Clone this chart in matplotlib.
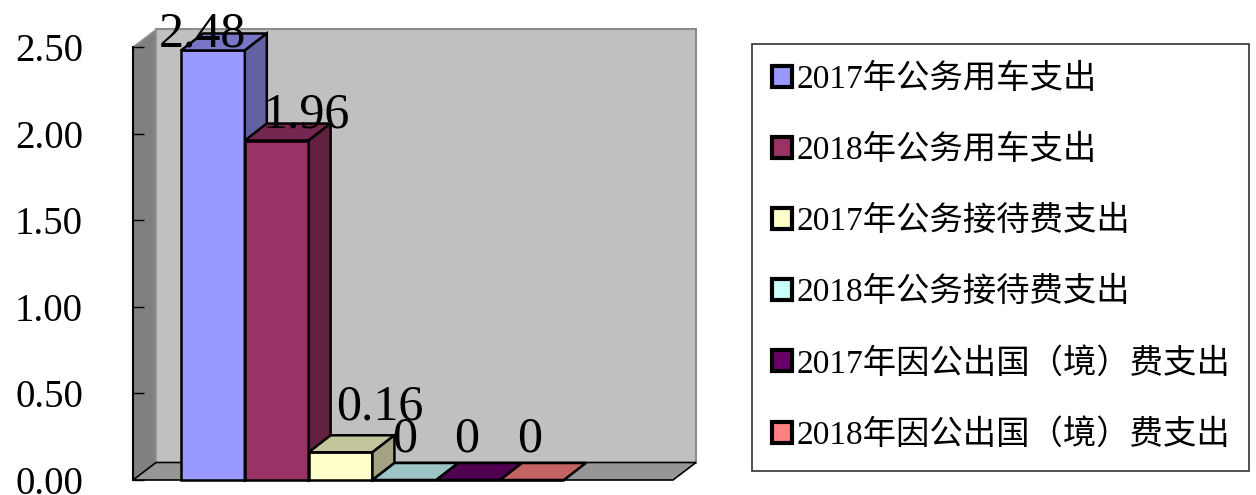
import matplotlib
matplotlib.use('Agg')
import matplotlib.pyplot as plt
from matplotlib.patches import Polygon, Patch
import numpy as np

plt.rcParams['font.family'] = ['Liberation Serif', 'Noto Sans CJK SC']

# data
series = ['2017年公务用车支出', '2018年公务用车支出',
          '2017年公务接待费支出', '2018年公务接待费支出',
          '2017年因公出国（境）费支出', '2018年因公出国（境）费支出']
values = [2.48, 1.96, 0.16, 0, 0, 0]
value_labels = ['2.48', '1.96', '0.16', '0', '0', '0']
yticks = [0.0, 0.5, 1.0, 1.5, 2.0, 2.5]

colors = ['#9999FF', '#993366', '#FFFFCC', '#CCFFFF', '#660066', '#FF8080']
# label nudges in pixels (dx, dy)
nudges = [(-11, 4), (30, 13), (39, 33), (0, 28), (-2, 28), (-2, 28)]


def shade(c, f):
    r, g, b = matplotlib.colors.to_rgb(c)
    return (r * f, g * f, b * f)


fig = plt.figure(figsize=(12.56, 4.95), dpi=100, facecolor='white')
ax = fig.add_axes([133 / 1256, 15 / 495, 540 / 1256, 433 / 495])
x0, x1 = -0.752, 7.71
ax.set_xlim(x0, x1)
ax.set_ylim(0, 2.5)
ax.patch.set_visible(False)

# depth offsets (data units)
wdx, wdy = 23 / 63.8, 17.5 / 173.2
bdx, bdy = 22 / 63.8, 17 / 173.2

# walls and floor
ax.add_patch(Polygon([(x0 + wdx, wdy), (x1 + wdx, wdy), (x1 + wdx, 2.5 + wdy), (x0 + wdx, 2.5 + wdy)],
                     closed=True, facecolor='#C0C0C0', edgecolor='#8C8C8C', lw=1.5, clip_on=False, zorder=0))
ax.add_patch(Polygon([(x0, 0), (x0, 2.5), (x0 + wdx, 2.5 + wdy), (x0 + wdx, wdy)],
                     closed=True, facecolor='#808080', edgecolor='#999999', lw=1, clip_on=False, zorder=0.5))
ax.add_patch(Polygon([(x0, 0), (x1, 0), (x1 + wdx, wdy), (x0 + wdx, wdy)],
                     closed=True, facecolor='#969696', edgecolor='black', lw=1.2, clip_on=False, zorder=0.6))

# bars
xs = np.arange(len(values))
bars = ax.bar(xs, values, width=1, align='edge', color=colors, edgecolor='black', linewidth=1.8)
for i, (b, v, c) in enumerate(zip(bars, values, colors)):
    z = 2 + i * 0.1
    b.set_zorder(z)
    b.set_clip_on(False)
    xl = xs[i]
    top = Polygon([(xl, v), (xl + 1, v), (xl + 1 + bdx, v + bdy), (xl + bdx, v + bdy)],
                  closed=True, facecolor=shade(c, 0.77), edgecolor='black', lw=1.8, clip_on=False, zorder=z)
    ax.add_patch(top)
    if v > 0:
        side = Polygon([(xl + 1, 0), (xl + 1, v), (xl + 1 + bdx, v + bdy), (xl + 1 + bdx, bdy)],
                       closed=True, facecolor=shade(c, 0.64), edgecolor='black', lw=1.8, clip_on=False, zorder=z)
        ax.add_patch(side)

# value labels
for i, (v, t) in enumerate(zip(values, value_labels)):
    dx, dy = nudges[i]
    ax.annotate(t, xy=(xs[i] + 0.5, v), xytext=(dx * 0.72, dy * 0.72), textcoords='offset points',
                ha='center', va='baseline', fontsize=36, color='black', zorder=10, annotation_clip=False)

# axes
for s in ['top', 'right', 'bottom']:
    ax.spines[s].set_visible(False)
ax.spines['left'].set_color('black')
ax.spines['left'].set_linewidth(1.5)
ax.spines['left'].set_zorder(1)
ax.set_xticks([])
ax.set_yticks(yticks)
ax.set_yticklabels(['%.2f' % t for t in yticks])
ax.tick_params(axis='y', direction='in', length=8, width=1, pad=36, labelsize=28, colors='black')

# legend
handles = [Patch(facecolor=c, edgecolor='black', linewidth=3) for c in colors]
leg = fig.legend(handles, series, loc='upper left',
                 bbox_to_anchor=(752 / 1256, 1 - 473 / 495, 497 / 1256, 429 / 495),
                 mode='expand', borderaxespad=0, fontsize=24, frameon=True, fancybox=False,
                 handlelength=0.6, handleheight=0.6, handletextpad=0.15,
                 labelspacing=1.19, borderpad=0.6)
leg.get_frame().set_edgecolor('black')
leg.get_frame().set_linewidth(1.2)

fig.savefig('out.png', dpi=100)
